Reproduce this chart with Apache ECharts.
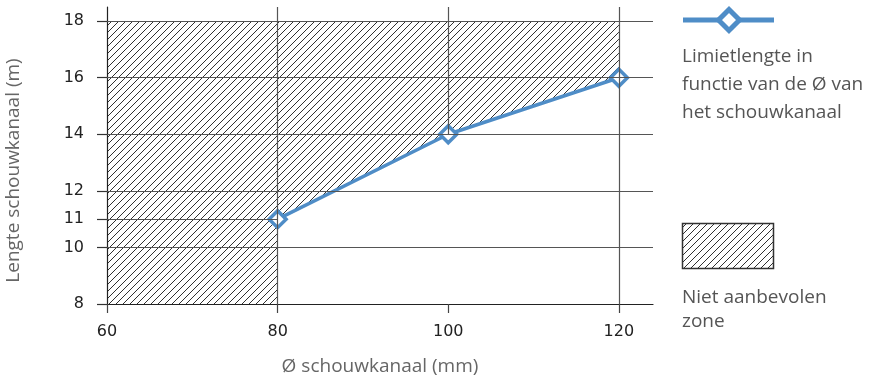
<!DOCTYPE html>
<html>
<head>
<meta charset="utf-8">
<script src="https://cdn.jsdelivr.net/npm/echarts@6/dist/echarts.min.js"></script>
<style>
html,body{margin:0;padding:0;background:#fff;}
#c{width:872px;height:377px;}
</style>
</head>
<body>
<div id="c"></div>
<script>
// ---- data ----
var xTicks = [60, 80, 100, 120];
var yTicks = [8, 10, 11, 12, 14, 16, 18];
var diameters = [80, 100, 120];          // Ø schouwkanaal (mm)
var limitLengths = [11, 14, 16];         // Lengte (m)
var lineName = 'Limietlengte in\nfunctie van de Ø van\nhet schouwkanaal';
var zoneName = 'Niet aanbevolen\nzone';
var xName = 'Ø schouwkanaal (mm)';
var yName = 'Lengte schouwkanaal (m)';

var X_MIN = 60, X_MAX = 124, Y_MIN = 8, Y_MAX = 18.5;
var BLUE = '#4f8dc7';

var lineData = diameters.map(function (d, i) { return [d, limitLengths[i]]; });

// hatch pattern
var pat = document.createElement('canvas');
pat.width = 7; pat.height = 7;
var pc = pat.getContext('2d');
pc.strokeStyle = '#1a1a1a';
pc.lineWidth = 0.9;
pc.beginPath();
pc.moveTo(0, 7); pc.lineTo(7, 0);
pc.moveTo(-1, 1); pc.lineTo(1, -1);
pc.moveTo(6, 8); pc.lineTo(8, 6);
pc.stroke();
var hatch = { image: pat, repeat: 'repeat' };

// zone polygon (value space): left column down to axis, above the limit line
var topY = yTicks[yTicks.length - 1];
var zone = [[xTicks[0], Y_MIN], [diameters[0], Y_MIN]]
  .concat(lineData)
  .concat([[diameters[diameters.length - 1], topY], [xTicks[0], topY]]);

// grid lines (value space)
var gridCol = '#555';
var ml = [];
yTicks.forEach(function (v) {
  if (v === Y_MIN) return;
  var x2 = (v === limitLengths[0]) ? diameters[0] : X_MAX;
  ml.push([{ coord: [X_MIN, v] }, { coord: [x2, v] }]);
});
xTicks.forEach(function (x) {
  if (x === X_MIN) return;
  var idx = diameters.indexOf(x);
  var from = (x === 100 && idx >= 0) ? limitLengths[idx] : Y_MIN;
  ml.push([{ coord: [x, from] }, { coord: [x, Y_MAX] }]);
});

var chart = echarts.init(document.getElementById('c'), null, { renderer: 'canvas' });
var tickFont = { fontFamily: 'DejaVu Sans', fontSize: 16, color: '#222' };
var textFont = { fontFamily: 'Open Sans', fontSize: 19, color: '#666' };

chart.setOption({
  animation: false,
  backgroundColor: '#fff',
  grid: { left: 107, right: 219, top: 7, bottom: 73, containLabel: false, outerBoundsMode: 'none' },
  xAxis: {
    type: 'value', min: X_MIN, max: X_MAX,
    name: xName, nameLocation: 'middle', nameGap: 53,
    nameTextStyle: textFont,
    axisLine: { show: true, lineStyle: { color: '#222', width: 1.2 } },
    axisTick: { show: true, length: 9, customValues: xTicks, lineStyle: { color: '#444', width: 1.2 } },
    axisLabel: Object.assign({ margin: 20, customValues: xTicks }, tickFont),
    splitLine: { show: false }
  },
  yAxis: {
    type: 'value', min: Y_MIN, max: Y_MAX,
    name: yName, nameLocation: 'middle', nameGap: 84,
    nameTextStyle: Object.assign({ padding: [0, 30, 0, 0] }, textFont),
    axisLine: { show: true, lineStyle: { color: '#222', width: 1.2 } },
    axisTick: { show: true, length: 10, customValues: yTicks, lineStyle: { color: '#333', width: 1.2 } },
    axisLabel: Object.assign({ margin: 23, customValues: yTicks }, tickFont),
    splitLine: { show: false }
  },
  series: [
    {
      type: 'custom', z: 1, silent: true,
      data: [0],
      renderItem: function (params, api) {
        var pts = zone.map(function (p) { return api.coord(p); });
        return { type: 'polygon', shape: { points: pts }, style: { fill: hatch, stroke: null } };
      }
    },
    {
      type: 'line', z: 2, data: [], silent: true,
      markLine: {
        silent: true, symbol: ['none', 'none'],
        label: { show: false },
        lineStyle: { color: gridCol, width: 1.2, type: 'solid' },
        data: ml
      }
    },
    {
      type: 'line', z: 3, name: lineName,
      data: lineData,
      lineStyle: { color: BLUE, width: 3.5 },
      symbol: 'diamond', symbolSize: 17,
      itemStyle: { color: '#fff', borderColor: BLUE, borderWidth: 3.5 }
    }
  ],
  graphic: [
    { type: 'line', shape: { x1: 683, y1: 20, x2: 774, y2: 20 }, style: { stroke: BLUE, lineWidth: 5 } },
    { type: 'polygon', shape: { points: [[729, 9.5], [739.5, 20], [729, 30.5], [718.5, 20]] },
      style: { fill: '#fff', stroke: BLUE, lineWidth: 5 } },
    { type: 'text', left: 682, top: 43,
      style: { text: lineName, fontFamily: 'Open Sans', fontSize: 19, lineHeight: 28, fill: '#555' } },
    { type: 'rect', shape: { x: 682.5, y: 223.5, width: 91, height: 45 },
      style: { fill: hatch, stroke: '#333', lineWidth: 1.5 } },
    { type: 'text', left: 682, top: 286,
      style: { text: zoneName, fontFamily: 'Open Sans', fontSize: 19, lineHeight: 24, fill: '#555' } }
  ]
});
</script>
</body>
</html>
